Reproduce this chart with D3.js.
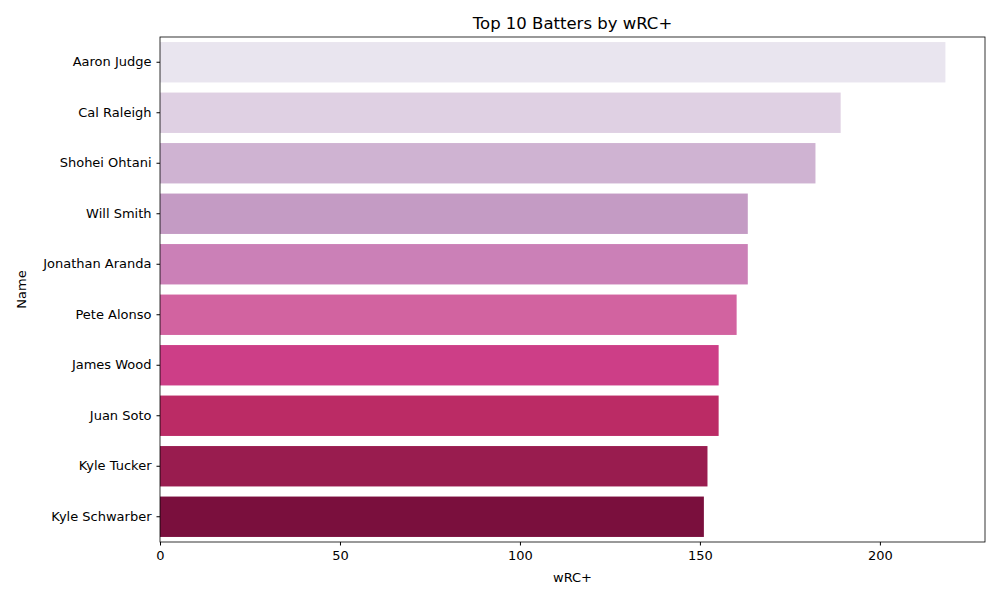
<!DOCTYPE html>
<html><head><meta charset="utf-8">
<script src="https://cdn.jsdelivr.net/npm/d3@7"></script>
<style>body{margin:0;background:#fff}svg text{font-family:"DejaVu Sans",sans-serif}</style>
</head><body><svg id="c" width="1000" height="600"></svg>
<script>
const names = ["Aaron Judge","Cal Raleigh","Shohei Ohtani","Will Smith","Jonathan Aranda","Pete Alonso","James Wood","Juan Soto","Kyle Tucker","Kyle Schwarber"];
const wrc = [218.2,189.1,182.1,163.3,163.3,160.2,155.2,155.2,152.1,151.1];
const colors = ["#e9e5ef","#dfd0e3","#cfb3d2","#c49bc4","#cb80b7","#d263a0","#cd3e87","#bb2b65","#991c4f","#7a0f3d"];
const xTicks = [0,50,100,150,200];

const m = {l:160,r:985,t:37,b:542};
const svg = d3.select("#c");
const x = d3.scaleLinear().domain([0,229.2]).range([m.l,m.r]);
const y = d3.scaleBand().domain(names).range([m.t,m.b]).paddingInner(0.2).paddingOuter(0.1);

svg.selectAll("rect.bar").data(names).join("rect")
  .attr("x",x(0)).attr("y",d=>y(d)).attr("height",y.bandwidth())
  .attr("width",(d,i)=>x(wrc[i])-x(0)).attr("fill",(d,i)=>colors[i]);

const xa = svg.append("g").attr("transform",`translate(0,${m.b})`)
  .call(d3.axisBottom(x).tickValues(xTicks).tickSizeOuter(0).tickSize(3.5).tickPadding(5));
const ya = svg.append("g").attr("transform",`translate(${m.l},0)`)
  .call(d3.axisLeft(y).tickSizeOuter(0).tickSize(3.5).tickPadding(5));
[xa,ya].forEach(a=>{a.selectAll("text").attr("font-size",13).attr("fill","#000");a.select(".domain").remove();a.selectAll("line").attr("stroke","#000");});

svg.append("rect").attr("x",m.l).attr("y",m.t).attr("width",m.r-m.l).attr("height",m.b-m.t)
  .attr("fill","none").attr("stroke","#000").attr("stroke-width",0.8);

svg.append("text").attr("x",(m.l+m.r)/2).attr("y",29).attr("text-anchor","middle").attr("font-size",16.5).text("Top 10 Batters by wRC+");
svg.append("text").attr("x",(m.l+m.r)/2).attr("y",582).attr("text-anchor","middle").attr("font-size",13).text("wRC+");
svg.append("text").attr("transform",`translate(26,${(m.t+m.b)/2}) rotate(-90)`).attr("text-anchor","middle").attr("font-size",13).text("Name");
</script></body></html>
